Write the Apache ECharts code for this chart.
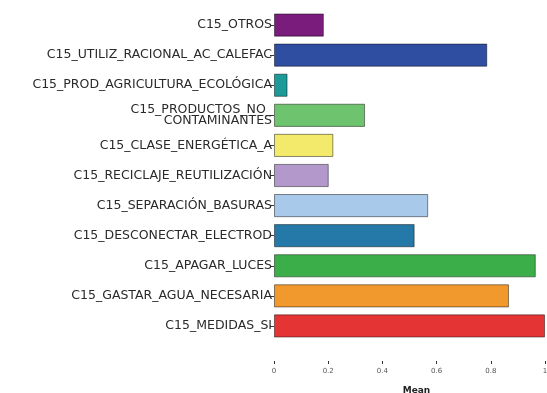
<!DOCTYPE html>
<html>
<head>
<meta charset="utf-8">
<script src="https://cdn.jsdelivr.net/npm/echarts@6/dist/echarts.min.js"></script>
<style>html,body{margin:0;padding:0;background:#fff;}#c{width:547px;height:393px;}</style>
</head>
<body>
<div id="c"></div>
<script>
const categories = [
  "C15_OTROS",
  "C15_UTILIZ_RACIONAL_AC_CALEFAC",
  "C15_PROD_AGRICULTURA_ECOLÓGICA",
  "C15_PRODUCTOS_NO_\nCONTAMINANTES",
  "C15_CLASE_ENERGÉTICA_A",
  "C15_RECICLAJE_REUTILIZACIÓN",
  "C15_SEPARACIÓN_BASURAS",
  "C15_DESCONECTAR_ELECTROD",
  "C15_APAGAR_LUCES",
  "C15_GASTAR_AGUA_NECESARIA",
  "C15_MEDIDAS_SI"
];
const means = [0.184, 0.787, 0.05, 0.336, 0.219, 0.202, 0.569, 0.519, 0.966, 0.867, 1.0];
const tickValues = [0, 0.2, 0.4, 0.6, 0.8, 1];

const barColors = ["#7a1c7c","#2f4ea2","#1b9a98","#6ec36f","#f3ea6c","#b398cc","#a8c9ea","#2479a8","#3bae4a","#f1992c","#e53434"];

const chart = echarts.init(document.getElementById('c'));
chart.setOption({
  animation: false,
  backgroundColor: '#ffffff',
  grid: { left: 274, right: 2, top: 10, bottom: 52, containLabel: false, outerBoundsMode: 'none' },
  xAxis: {
    type: 'value', min: 0, max: 1, interval: 0.2,
    offset: 20,
    axisLine: { show: false },
    axisTick: { show: true, length: 3, lineStyle: { color: '#333', width: 1 } },
    splitLine: { show: false },
    axisLabel: {
      fontFamily: 'DejaVu Sans', fontSize: 7, color: '#555', margin: 7,
      formatter: v => tickValues.includes(Math.round(v*10)/10) ? String(Math.round(v*10)/10) : ''
    },
    name: 'Mean', nameLocation: 'middle', nameGap: 25,
    nameTextStyle: { fontFamily: 'DejaVu Sans', fontSize: 9, fontWeight: 'bold', color: '#222', padding: [0,0,0,14] }
  },
  yAxis: {
    type: 'category', data: categories, inverse: true,
    axisLine: { show: false },
    axisTick: { show: true, length: 4, alignWithLabel: true, lineStyle: { color: '#333' } },
    axisLabel: { fontFamily: 'DejaVu Sans', fontSize: 12.5, color: '#2a2a2a', margin: 2, lineHeight: 11 }
  },
  series: [{
    type: 'bar',
    barWidth: '77%',
    data: means.map((v, i) => ({
      value: v,
      itemStyle: { color: barColors[i], borderColor: 'rgba(0,0,0,0.45)', borderWidth: 1 }
    }))
  }]
});
</script>
</body>
</html>
